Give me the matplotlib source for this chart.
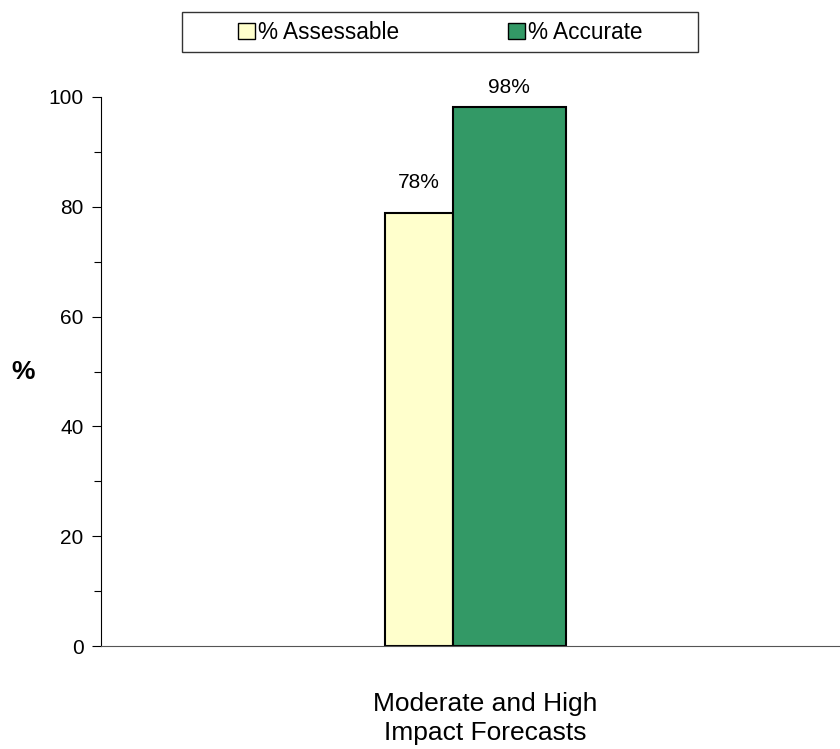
import matplotlib.pyplot as plt
from matplotlib.patches import Patch, Rectangle
from matplotlib.ticker import MultipleLocator

plt.rcParams['font.family'] = ['Liberation Sans', 'DejaVu Sans']

# data
category = "Moderate and High\nImpact Forecasts"
series = ["% Assessable", "% Accurate"]
values = [78.8, 98.2]
labels = ["78%", "98%"]

# styles
colors = ["#FFFFCC", "#339966"]
lefts = [-0.231, -0.048]
widths = [0.183, 0.306]
label_offsets = [4.7, 2.5]

fig = plt.figure(figsize=(8.4, 7.49), dpi=100)
ax = fig.add_axes([0.1202, 0.1375, 0.8798, 0.733])

for i in range(len(series)):
    ax.bar(lefts[i], values[i], width=widths[i], align='edge',
           color=colors[i], edgecolor='black', linewidth=1.5, label=series[i])
    ax.text(lefts[i] + widths[i] / 2, values[i] + label_offsets[i], labels[i],
            ha='center', va='baseline', fontsize=15)

ax.set_xlim(-1, 1)
ax.set_ylim(0, 100)
ax.yaxis.set_major_locator(MultipleLocator(20))
ax.yaxis.set_minor_locator(MultipleLocator(10))
ax.tick_params(axis='y', which='major', length=6.5, width=0.8, pad=6, labelsize=15, direction='out')
ax.tick_params(axis='y', which='minor', length=5, width=0.8, direction='out')
ax.set_xticks([0.04])
ax.set_xticklabels([category], fontsize=19, linespacing=1.25)
ax.tick_params(axis='x', length=0, pad=33)

ax.spines['top'].set_visible(False)
ax.spines['right'].set_visible(False)
ax.spines['bottom'].set_color('#555555')

ax.set_ylabel('%', fontsize=19, fontweight='bold', rotation=0, ha='center', va='center')
ax.yaxis.set_label_coords(-0.1055, 0.5)

# legend with a hand-drawn frame
handles = [Patch(facecolor=colors[i], edgecolor='black', label=series[i]) for i in range(2)]
fig.legend(handles=handles, loc='center', bbox_to_anchor=(0.524, 0.957),
           ncol=2, fontsize=16.3, frameon=False,
           handlelength=0.75, handleheight=0.75,
           handletextpad=0.15, columnspacing=4.8)
fig.patches.append(Rectangle((182 / 840, 1 - 52 / 749), 516 / 840, 40 / 749,
                             transform=fig.transFigure, fill=False,
                             edgecolor='#333333', linewidth=1.0))

fig.savefig('out.png', dpi=100)
